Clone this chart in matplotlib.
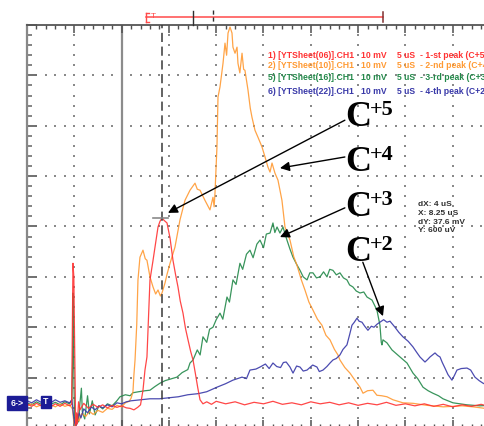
import matplotlib
matplotlib.use("Agg")
import matplotlib.pyplot as plt
from matplotlib.lines import Line2D
from matplotlib.patches import Rectangle
import numpy as np

W, H = 485, 426

# time in uS (5 uS/div), signal in mV (10 mV/div)
red = [(0, 4.8), (0.5, 4.3), (1, 4.9), (1.5, 4.4), (2, 5.0), (2.5, 4.2), (3, 4.8), (3.5, 4.3),
       (4, 4.9), (4.5, 4.4), (4.72, 4.7), (4.8, 21.0), (4.86, 32.7), (4.95, 30.0), (5.02, 18.8),
       (5.08, 10.0), (5.14, 0.4), (5.22, 3.0), (5.32, 0.8), (5.45, 5.2), (5.6, 3.6), (6.0, 4.9),
       (6.5, 3.9), (7.0, 4.7), (7.5, 4.1), (8.0, 4.6), (8.5, 4.0), (9.0, 4.5), (9.5, 4.1),
       (10.0, 4.4), (10.5, 4.0), (10.9, 3.9), (11.3, 3.6), (11.7, 4.1), (12.0, 4.6), (12.26, 7.5),
       (12.47, 11.5), (12.68, 14.1), (13.0, 29.4), (13.3, 33.0), (13.53, 35.9), (13.85, 39.9),
       (14.05, 41.0), (14.27, 41.7), (14.5, 41.2), (14.8, 40.7), (15.12, 37.7), (15.43, 33.3),
       (15.7, 30.5), (15.96, 28.0), (16.2, 25.2), (16.49, 22.8), (16.75, 19.8), (17.02, 17.5),
       (17.3, 15.2), (17.55, 13.5), (17.8, 10.8), (18.05, 8.0), (18.29, 5.6), (18.6, 4.8),
       (19.0, 5.2), (19.5, 4.7), (20, 5.3), (21, 4.8), (22, 5.2), (23, 4.6), (24, 5.1), (25, 4.8),
       (26, 5.3), (27, 4.7), (28, 5.0), (29, 4.6), (30, 5.2), (31, 4.8), (32, 5.1), (33, 4.6),
       (34, 5.0), (35, 4.5), (36, 4.9), (37, 4.6), (38, 5.1), (39, 4.5), (40, 4.8), (41, 4.4),
       (42, 4.8), (43, 4.3), (44, 4.7), (45, 4.2), (46, 4.6), (47, 4.3), (48, 4.7), (49, 4.2),
       (50, 4.5)]

orange = [(0, 4.4), (0.5, 4.8), (1, 4.2), (1.5, 4.6), (2, 4.0), (2.5, 4.6), (3, 4.2), (3.5, 4.8),
          (4, 4.3), (4.5, 4.6), (4.8, 3.8), (4.95, 1.2), (5.1, 0.2), (5.3, 2.2), (5.5, 1.4),
          (5.8, 2.9), (6.2, 2.3), (6.6, 3.3), (7.0, 2.7), (7.5, 3.5), (8.0, 3.1), (8.5, 3.9),
          (9.0, 3.7), (9.5, 4.5), (10.0, 4.2), (10.4, 5.0), (10.8, 5.3), (11.0, 5.9), (11.2, 7.2),
          (11.3, 10.5), (11.42, 13.5), (11.6, 20.5), (11.73, 29.4), (11.94, 33.9), (12.26, 35.3),
          (12.5, 33.6), (12.68, 33.3), (13.0, 30.0), (13.32, 28.0), (13.6, 26.6), (13.85, 27.4),
          (14.1, 26.2), (14.27, 26.8), (14.59, 28.8), (14.8, 30.5), (15.12, 32.7), (15.64, 35.9),
          (16.17, 41.3), (16.7, 45.2), (17.23, 47.2), (17.76, 48.6), (18.0, 47.4), (18.29, 47.2),
          (18.81, 45.2), (19.34, 43.3), (19.66, 45.8), (19.78, 43.9), (19.87, 46.6), (20.08, 55.8),
          (20.19, 65.7), (20.4, 67.7), (20.72, 72.4), (20.93, 76.4), (21.1, 74.0), (21.25, 78.4),
          (21.46, 79.6), (21.67, 78.4), (21.77, 75.6), (21.99, 74.4), (22.2, 75.6), (22.3, 72.4),
          (22.5, 70.5), (22.73, 74.4), (22.9, 71.2), (23.04, 71.0), (23.36, 67.1), (23.6, 63.5),
          (23.78, 61.7), (24.1, 59.1), (24.42, 57.7), (24.84, 55.8), (25.16, 53.8), (25.47, 51.8),
          (25.69, 50.8), (25.9, 52.6), (26.21, 50.6), (26.53, 49.2), (26.95, 45.2), (27.27, 39.9),
          (27.8, 37.3), (28.2, 34.0), (28.54, 32.3), (29.0, 29.4), (29.38, 27.4), (29.8, 25.0),
          (30.23, 23.4), (30.7, 21.6), (31.18, 20.4), (31.6, 18.4), (32.03, 17.5), (32.5, 15.6),
          (32.87, 14.5), (33.08, 13.5), (33.6, 12.0), (34.14, 10.9), (34.7, 9.4), (35.2, 8.1),
          (35.52, 6.9), (36.0, 7.4), (36.57, 7.5), (36.99, 6.5), (37.5, 6.4), (38.05, 6.2),
          (38.69, 5.6), (39.74, 5.0), (40.8, 4.9), (42.28, 4.5), (44, 4.2), (46, 4.4), (47.14, 4.2),
          (48.41, 3.9), (50, 4.1)]

green = [(0, 5.0), (0.5, 4.6), (1, 5.2), (1.5, 4.7), (2, 5.3), (2.5, 4.7), (3, 5.1), (3.5, 4.6),
         (4, 5.2), (4.5, 4.8), (4.75, 5.6), (4.82, 13.0), (4.86, 26.8), (4.92, 20.0), (4.97, 8.0),
         (5.05, 0.2), (5.15, 0.3), (5.3, 2.8), (5.45, 1.2), (5.6, 5.0), (5.75, 7.9), (5.85, 3.2),
         (6.1, 1.8), (6.4, 6.4), (6.6, 2.8), (6.9, 5.4), (7.2, 2.6), (7.6, 4.4), (8.0, 3.8),
         (8.5, 4.8), (9.0, 4.4), (9.5, 5.4), (9.83, 6.2), (10.4, 6.6), (10.9, 6.4), (11.2, 7.0),
         (11.8, 7.2), (12.5, 7.4), (13.0, 7.5), (13.5, 8.2), (14.06, 8.9), (14.6, 9.4), (15.3, 9.8),
         (15.85, 10.1), (16.4, 11.0), (17.0, 11.6), (17.23, 12.9), (17.55, 13.5), (18.0, 15.5),
         (18.3, 14.5), (18.6, 18.1), (19.0, 17.0), (19.3, 19.6), (19.66, 20.0), (20.0, 21.5),
         (20.4, 22.8), (20.7, 21.6), (21.14, 26.0), (21.4, 25.0), (21.77, 29.4), (22.1, 28.5),
         (22.51, 32.7), (22.8, 31.5), (23.2, 34.5), (23.57, 35.3), (23.9, 33.8), (24.3, 36.5),
         (24.63, 37.3), (25.0, 35.8), (25.3, 38.5), (25.69, 38.7), (26.0, 40.7), (26.2, 38.8),
         (26.43, 39.9), (26.74, 38.7), (27.06, 39.9), (27.48, 37.3), (27.8, 35.5), (28.12, 33.9),
         (28.5, 32.5), (28.86, 31.3), (29.2, 30.0), (29.6, 29.4), (29.9, 30.8), (30.23, 30.8),
         (30.6, 29.8), (30.97, 30.0), (31.35, 31.0), (31.71, 30.0), (32.0, 31.5), (32.34, 31.3),
         (32.7, 30.4), (33.08, 30.8), (33.45, 29.8), (33.82, 29.4), (34.1, 28.4), (34.45, 28.0),
         (34.8, 27.2), (35.2, 26.8), (35.6, 27.0), (35.94, 26.0), (36.47, 25.4), (36.99, 23.4),
         (37.2, 21.5), (37.31, 20.4), (37.45, 17.0), (37.52, 16.5), (37.63, 17.5), (38.05, 16.9),
         (38.58, 15.5), (39.0, 14.8), (39.43, 14.1), (40.17, 12.9), (40.8, 10.9), (41.3, 9.8),
         (41.86, 8.1), (42.4, 7.4), (42.91, 6.9), (43.5, 6.4), (43.97, 5.8), (44.5, 5.4),
         (45.03, 5.0), (45.8, 4.8), (46.51, 4.6), (47.2, 4.5), (47.88, 4.4), (48.8, 4.5), (50, 4.3)]

blue = [(0, 5.4), (0.5, 5.0), (1, 5.6), (1.5, 5.1), (2, 5.5), (2.5, 5.0), (3, 5.6), (3.5, 5.1),
        (4, 5.4), (4.5, 5.0), (4.75, 5.6), (4.9, 2.8), (5.0, 1.3), (5.15, 0.3), (5.3, 1.3),
        (5.5, 3.0), (5.7, 2.0), (6.0, 3.8), (6.4, 3.0), (6.8, 4.2), (7.2, 3.6), (7.6, 4.4),
        (8.0, 4.0), (8.5, 4.6), (9.0, 4.2), (9.5, 5.0), (10.0, 4.8), (10.5, 5.2), (11.0, 5.4),
        (11.5, 5.5), (12.0, 5.6), (13.0, 5.8), (14.0, 5.8), (15.0, 6.0), (16.0, 6.2), (17.0, 6.6),
        (18.0, 6.8), (18.29, 6.9), (19.0, 7.2), (20.08, 8.1), (21.0, 8.8), (21.77, 9.5),
        (22.73, 10.1), (23.2, 9.8), (23.57, 11.5), (24.2, 11.7), (24.63, 12.1), (25.2, 12.7),
        (25.6, 11.8), (26.0, 12.9), (26.4, 12.2), (26.8, 12.0), (27.1, 13.0), (27.4, 13.1),
        (27.8, 12.1), (28.12, 10.9), (28.5, 12.3), (28.86, 12.1), (29.2, 11.3), (29.6, 11.5),
        (30.2, 12.5), (30.65, 12.1), (30.9, 11.2), (31.29, 11.5), (31.7, 12.2), (32.03, 12.9),
        (32.34, 13.5), (32.7, 13.8), (33.08, 14.5), (33.4, 15.6), (33.82, 16.5), (34.1, 18.5),
        (34.35, 20.4), (34.6, 21.0), (34.88, 21.8), (35.1, 21.2), (35.41, 21.0), (35.7, 20.2),
        (36.04, 19.4), (36.4, 20.2), (36.68, 20.0), (37.0, 20.6), (37.31, 21.0), (37.7, 21.5),
        (38.05, 21.0), (38.37, 21.2), (38.9, 20.0), (39.3, 19.0), (39.74, 18.1), (40.3, 17.2),
        (40.8, 16.1), (41.2, 15.0), (41.54, 14.1), (42.07, 13.1), (42.35, 13.6), (42.6, 14.1),
        (43.13, 14.9), (43.4, 14.4), (43.66, 14.1), (43.9, 13.0), (44.18, 11.9), (44.5, 10.6),
        (44.92, 9.5), (45.2, 10.5), (45.45, 11.5), (45.9, 11.8), (46.51, 11.9), (46.9, 11.5),
        (47.35, 10.1), (47.8, 9.4), (48.2, 8.9), (49, 8.2), (50, 7.6)]

legend_rows = ["1) [YTSheet(06)].CH1", "2) [YTSheet(10)].CH1",
               "5) [YTSheet(16)].CH1", "6) [YTSheet(22)].CH1"]
legend_notes = ["- 1-st peak (C+5)", "- 2-nd peak (C+4)", "- 3-rd peak (C+3)", "- 4-th peak (C+2)"]
trace_colors = ["#ff3333", "#ff9a33", "#23894a", "#3838a8"]
readout = ["dX: 4 uS", "X: 8.25 uS", "dY: 37.6 mV", "Y: 600 uV"]

# labels: (charge, arrow tip (uS, mV), arrow start (uS, mV))
labels = [("+5", (14.9, 42.7), (33.6, 61.1)),
          ("+4", (26.74, 51.6), (33.6, 53.8)),
          ("+3", (26.74, 37.9), (33.6, 43.7)),
          ("+2", (37.63, 22.2), (35.5, 32.9))]


def fx(px):
    return px / W


def fy(py):
    return 1 - py / H


fig = plt.figure(figsize=(W / 100, H / 100), dpi=100)
ax = fig.add_axes([27 / W, (H - 428) / H, 473 / W, 403 / H])
ax.set_xlim(0, 50)
ax.set_ylim(0, 80)

# scope graticule
ax.set_xticks(np.arange(0, 51, 5))
ax.set_xticks(np.arange(0, 51, 1), minor=True)
ax.set_yticks(np.arange(0, 81, 10))
ax.set_yticks(np.arange(0, 81, 2), minor=True)
ax.tick_params(axis='x', which='major', direction='in', top=True, bottom=True, length=6,
               width=1.1, color='#505050', labelbottom=False)
ax.tick_params(axis='x', which='minor', direction='in', top=True, bottom=True, length=3.2,
               width=1.0, color='#505050')
ax.tick_params(axis='y', which='major', direction='in', left=True, right=False, length=7,
               width=1.4, color='#707070', labelleft=False)
ax.tick_params(axis='y', which='minor', direction='in', left=True, right=False, length=3.5,
               width=1.2, color='#707070')
ax.spines['left'].set_color('#888888')
ax.spines['left'].set_linewidth(1.6)
ax.spines['top'].set_color('#555555')
ax.spines['top'].set_linewidth(1.3)
ax.spines['bottom'].set_color('#555555')
ax.spines['right'].set_visible(False)

for xv in [5, 15, 20, 25, 30, 35, 40, 45]:
    yy = np.arange(2, 80, 2)
    ax.scatter([xv] * len(yy), yy, s=1.2, marker='s', color='#8a8a8a', lw=0, zorder=1)
for yv in range(10, 80, 10):
    xx = np.arange(1, 50, 1)
    ax.scatter(xx, [yv] * len(xx), s=1.2, marker='s', color='#8a8a8a', lw=0, zorder=1)

ax.axvline(10, color='#8c8c8c', lw=1.6, zorder=1)

# traces
for data, c in [(green, trace_colors[2]), (orange, trace_colors[1]),
                (blue, trace_colors[3]), (red, trace_colors[0])]:
    t = [p[0] for p in data]
    v = [p[1] for p in data]
    ax.plot(t, v, color=c, lw=0.9, alpha=0.9, zorder=3)

# cursor
ax.axvline(14.24, color='#383838', lw=1.1, ls=(0, (6, 3)), zorder=4)
ax.plot([13.3, 14.9], [41.7, 41.7], color='#8a8a8a', lw=1.2, zorder=4)

# C labels with arrows
for i, (charge, tip, start) in enumerate(labels):
    ax.annotate('', xy=tip, xytext=start,
                arrowprops=dict(arrowstyle='-|>', color='black', lw=1.0,
                                mutation_scale=14, shrinkA=0, shrinkB=0), zorder=5)
    base = 126 + 45 * i
    fig.text(fx(345), fy(base), "C", fontsize=26, fontweight='bold',
             family='Liberation Serif', ha='left', va='baseline')
    fig.text(fx(370), fy(base - 11), charge, fontsize=16, fontweight='bold',
             family='Liberation Serif', ha='left', va='baseline')

# channel list
rows_y = [55, 65, 78, 91]
for name, note, c, yy in zip(legend_rows, legend_notes, trace_colors, rows_y):
    for xpos, s in [(268, name), (361, "10 mV"), (397, "5 uS"), (420, note)]:
        fig.text(fx(xpos), fy(yy), s, color=c, fontsize=6.2, fontweight='bold',
                 family='Liberation Sans', ha='left', va='center')

# cursor readout
for s, yy in zip(readout, [205, 213.5, 222, 230.5]):
    fig.text(fx(418), fy(yy), s, color='#303030', fontsize=6.0, fontweight='bold',
             family='Liberation Sans', ha='left', va='center')

# time bar above the screen
fig.add_artist(Line2D([fx(146), fx(383)], [fy(17), fy(17)], color='#ff4a4a', lw=1.1))
fig.add_artist(Line2D([fx(146), fx(146)], [fy(13), fy(22)], color='#ff4a4a', lw=1.0))
fig.add_artist(Line2D([fx(146), fx(149)], [fy(13), fy(13)], color='#ff4a4a', lw=1.0))
fig.add_artist(Line2D([fx(146), fx(149)], [fy(22), fy(22)], color='#ff4a4a', lw=1.0))
fig.add_artist(Line2D([fx(383), fx(383)], [fy(12), fy(22)], color='#803030', lw=1.1))
fig.text(fx(153.5), fy(16), "T", color='#ff4a4a', fontsize=6, family='Liberation Sans',
         ha='center', va='center')
fig.add_artist(Line2D([fx(193), fx(193)], [fy(11), fy(25)], color='#303030', lw=1.0))
fig.add_artist(Line2D([fx(213), fx(213)], [fy(10), fy(22)], color='#303030', lw=1.0,
                      ls=(0, (3, 2))))

# channel / trigger markers
fig.add_artist(Rectangle((fx(7), fy(410)), fx(20), 14 / H, color='#1c1c96'))
fig.text(fx(17), fy(403), "6->", color='white', fontsize=6.3, fontweight='bold',
         family='Liberation Sans', ha='center', va='center')
fig.add_artist(Rectangle((fx(41), fy(408)), fx(10), 12 / H, color='#1c1c96'))
fig.text(fx(46), fy(402), "T", color='white', fontsize=6.3, fontweight='bold',
         family='Liberation Sans', ha='center', va='center')

fig.savefig("out.png", dpi=100)
